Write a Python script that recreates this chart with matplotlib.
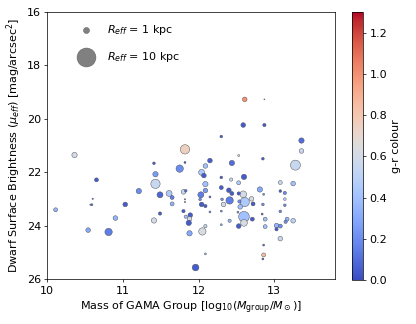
import matplotlib
matplotlib.use('Agg')
import matplotlib.pyplot as plt
import numpy as np

# group mass [log10 Msun], surface brightness [mag/arcsec^2], R_eff [kpc], g-r colour
mass = [10.36, 11.82, 13.36, 13.36, 13.28, 12.85, 12.53, 12.44, 12.15, 12.09,
        12.04, 12.07, 11.82, 11.75, 11.41, 11.43, 11.43, 10.65, 11.21, 11.49,
        11.61, 11.65, 11.65, 11.49, 11.41, 11.80, 11.83, 11.82, 11.82, 11.80,
        11.83, 11.89, 11.88, 11.87, 11.88, 12.05, 12.09, 12.09, 12.09, 12.03,
        12.02, 12.04, 12.09, 12.15, 12.15, 12.09, 11.96, 12.30, 12.30, 12.31,
        12.30, 12.30, 12.40, 12.44, 12.43, 12.41, 12.33, 12.41, 12.43, 12.53,
        12.60, 12.59, 12.53, 12.61, 12.54, 12.55, 12.70, 12.72, 12.60, 12.71,
        12.60, 12.53, 12.52, 12.81, 12.86, 12.85, 12.84, 12.88, 12.88, 12.86,
        12.86, 12.85, 13.08, 13.25, 13.08, 13.14, 13.14, 13.14, 13.08, 13.17,
        13.15, 13.25, 13.03, 13.08, 13.03, 13.08, 10.11, 10.54, 10.81, 10.90,
        11.03, 10.60, 10.57, 10.59, 12.61, 12.87, 12.59, 12.87, 12.30]
mu = [21.35, 21.14, 20.81, 21.20, 21.73, 21.49, 21.37, 21.65, 21.56, 21.76,
      22.00, 22.12, 21.63, 21.86, 21.66, 22.07, 22.43, 22.28, 22.70, 22.84,
      22.79, 22.94, 23.18, 23.54, 23.80, 22.73, 22.69, 23.01, 23.11, 23.45,
      23.66, 23.60, 23.74, 23.89, 24.28, 24.21, 24.01, 22.44, 22.68, 22.84,
      23.01, 23.20, 23.26, 22.92, 23.48, 25.05, 25.56, 22.19, 22.57, 23.01,
      23.45, 23.96, 22.67, 22.79, 23.01, 23.05, 23.20, 23.81, 22.27, 22.39,
      22.17, 22.82, 22.79, 23.11, 23.09, 23.29, 22.99, 23.18, 23.66, 23.75,
      23.89, 24.01, 23.49, 22.64, 22.82, 23.20, 23.56, 23.75, 24.03, 24.72,
      25.09, 25.24, 22.38, 22.42, 22.70, 22.77, 23.00, 23.23, 23.46, 23.75,
      23.85, 23.81, 23.99, 24.01, 24.13, 24.48, 23.40, 24.16, 24.23, 23.71,
      23.20, 22.99, 23.21, 23.21, 19.27, 19.27, 20.23, 20.23, 20.66]
reff = [0.79, 2.42, 0.8, 0.6, 2.78, 0.2, 0.11, 0.79, 0.6, 0.6,
        1.0, 0.6, 0.11, 1.5, 0.2, 0.79, 2.4, 0.44, 0.79, 1.0,
        1.0, 0.44, 0.44, 0.3, 0.79, 0.6, 0.2, 0.05, 0.05, 0.3,
        0.3, 0.6, 0.6, 0.79, 0.79, 1.5, 0.3, 0.79, 0.6, 1.0,
        0.2, 0.6, 0.3, 0.11, 0.11, 0.11, 1.25, 0.2, 0.44, 0.2,
        0.11, 0.11, 0.6, 0.44, 0.3, 1.5, 0.6, 0.3, 0.3, 0.44,
        0.79, 1.25, 0.3, 2.4, 0.3, 0.6, 0.6, 0.44, 3.2, 0.44,
        1.25, 0.6, 0.11, 0.79, 0.11, 0.2, 0.11, 0.44, 0.44, 0.11,
        0.44, 0.11, 0.44, 0.6, 0.2, 0.3, 0.2, 0.2, 0.2, 0.44,
        0.3, 0.6, 0.6, 0.44, 0.3, 0.6, 0.44, 0.6, 1.5, 0.6,
        0.6, 0.05, 0.05, 0.11, 0.6, 0.03, 0.6, 0.3, 0.2]
gr = [0.6, 0.75, 0.1, 0.55, 0.55, 0.05, 0.55, 0.1, 0.05, 0.4,
      0.45, 0.05, 0.05, 0.2, 0.05, 0.25, 0.55, 0.05, 0.2, 0.08,
      0.45, 0.15, 0.35, 0.05, 0.6, 0.55, 0.1, 0.05, 0.2, 0.05,
      0.4, 0.05, 0.6, 0.05, 0.3, 0.62, 0.5, 0.4, 0.25, 0.15,
      0.2, 0.05, 0.05, 0.05, 0.2, 0.35, 0.05, 0.05, 0.05, 0.2,
      0.2, 0.3, 0.05, 0.05, 0.05, 0.15, 0.6, 0.35, 0.55, 0.45,
      0.05, 0.6, 0.05, 0.45, 0.2, 0.4, 0.6, 0.05, 0.4, 0.05,
      0.62, 0.05, 0.2, 0.3, 0.2, 0.2, 0.05, 0.4, 0.4, 0.1,
      0.85, 0.05, 0.55, 0.4, 0.05, 0.2, 0.5, 0.2, 0.2, 0.35,
      0.2, 0.5, 0.35, 0.2, 0.05, 0.55, 0.35, 0.3, 0.15, 0.35,
      0.05, 0.05, 0.2, 0.1, 1.0, 0.3, 0.05, 0.05, 0.05]

size_scale = 44
legend_r = [1, 10]

plt.rcParams['font.size'] = 12.4
fig = plt.figure(figsize=(6.4, 4.985), dpi=65)
ax = fig.add_axes([0.1137, 0.138, 0.691, 0.825])
cax = fig.add_axes([0.847, 0.135, 0.026, 0.828])

sc = ax.scatter(mass, mu, s=np.array(reff) * size_scale, c=gr, cmap='coolwarm',
                vmin=0, vmax=1.3, edgecolors='0.3', linewidths=0.5)

for r in legend_r:
    ax.scatter([], [], s=r * size_scale, c='grey', edgecolors='0.35', linewidths=0.5,
               label=r'$R_{eff}$ = %d kpc' % r)
ax.legend(loc='upper left', bbox_to_anchor=(0.06, 0.995), frameon=False,
          labelspacing=1.15, handletextpad=0.9)

ax.set_xlim(10, 13.8)
ax.set_ylim(26, 16)
ax.set_xticks([10, 11, 12, 13])
ax.set_xlabel(r'Mass of GAMA Group [log$_{10}$($M_{\rm group}$/$M_\odot$)]')
ax.set_ylabel(r'Dwarf Surface Brightness ($\mu_{eff}$) [mag/arcsec$^2$]')

cb = fig.colorbar(sc, cax=cax)
cb.set_ticks([0.0, 0.2, 0.4, 0.6, 0.8, 1.0, 1.2])
cb.set_label('g-r colour')

plt.savefig('out.png')
